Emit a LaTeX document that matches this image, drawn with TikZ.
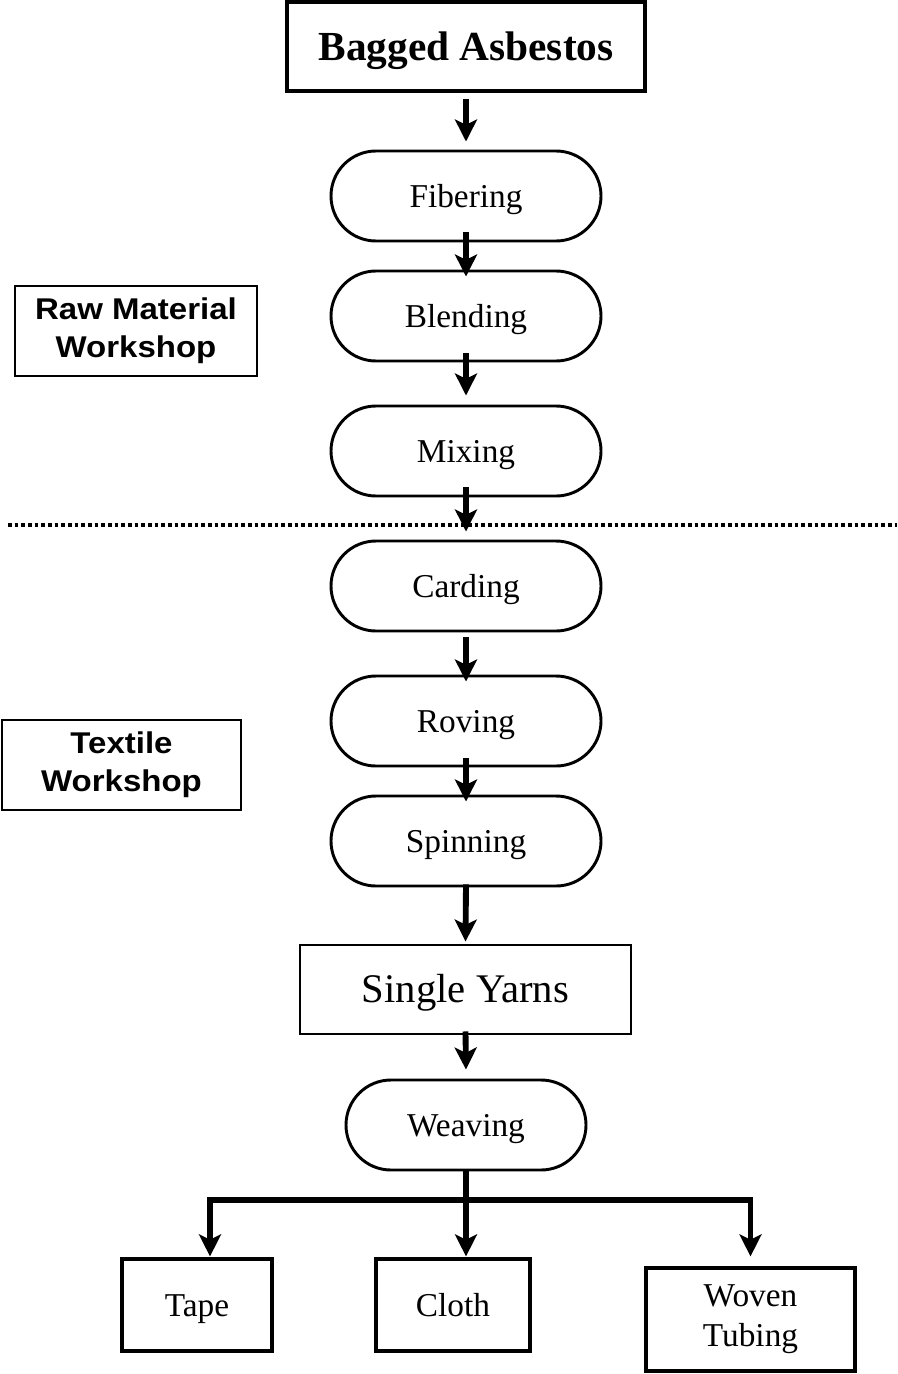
\documentclass[tikz,border=0pt]{standalone}
\usepackage{fontspec}
\setmainfont{Liberation Serif}
\newfontfamily\labfont[FakeStretch=1.1]{Liberation Sans}
\usetikzlibrary{shapes.misc,arrows.meta,calc}
\begin{document}
\begin{tikzpicture}[x=0.75pt,y=-0.75pt,
  box/.style={draw,line width=2.6pt,rectangle,inner sep=0pt,align=center},
  one/.style={text height=16.5pt,text depth=0pt},
  pill/.style={draw,line width=2.2pt,rounded rectangle,minimum width=202.5pt,minimum height=67.5pt,inner sep=0pt,one,font=\fontsize{25}{30}\selectfont},
  arr/.style={line width=4.4pt,-{Stealth[length=16.5pt,width=16.5pt,inset=4pt]}},
  lab/.style={draw,line width=1.8pt,rectangle,inner sep=0pt,align=center,font=\labfont\bfseries\fontsize{22.5}{28.5}\selectfont},
  prod/.style={box,line width=2.4pt,font=\fontsize{25}{30}\selectfont}
]
\useasboundingbox (0,0) rectangle (897,1374);

\node[box,text height=20.5pt,text depth=0pt,minimum width=268.5pt,minimum height=66.75pt,font=\bfseries\fontsize{31}{36}\selectfont] (bag) at (466,46.5) {Bagged Asbestos};
\node[pill] (fib) at (466,196) {Fibering};
\node[pill] (ble) at (466,316) {Blending};
\node[pill] (mix) at (466,451) {Mixing};
\node[pill] (car) at (466,586) {Carding};
\node[pill] (rov) at (466,721) {Roving};
\node[pill] (spi) at (466,841) {Spinning};
\node[box,text height=20pt,text depth=0pt,line width=2.2pt,minimum width=248.25pt,minimum height=66.75pt,font=\fontsize{30.5}{36}\selectfont] (yarn) at (465.5,989.5) {Single Yarns};
\node[pill,minimum width=180pt] (wea) at (466,1125) {Weaving};
\node[prod,one,minimum width=112.5pt,minimum height=69pt] (tape) at (197,1305) {Tape};
\node[prod,one,minimum width=115.5pt,minimum height=69pt] (cloth) at (453,1305) {Cloth};
\node[prod,minimum width=156.75pt,minimum height=77.25pt] (tub) at (750.5,1319.5) {Woven\\Tubing};

\node[lab,minimum width=181.5pt,minimum height=67.5pt] (raw) at (136,331) {Raw Material\\Workshop};
\node[lab,minimum width=179.25pt,minimum height=67.5pt] (tex) at (121.5,765) {Textile\\Workshop};

\coordinate (dl) at (8,525);
\coordinate (dr) at (897,525);
\draw[line width=3.3pt,dash pattern=on 2.7pt off 2.3pt] (dl) -- (dr);

\draw[arr] ($(bag.south)+(0,6)$) -- ($(fib.north)+(0,-8)$);
\draw[arr] ($(fib.south)+(0,-10)$) -- ($(ble.north)+(0,7)$);
\draw[arr] ($(ble.south)+(0,-9)$) -- ($(mix.north)+(0,-9)$);
\draw[arr] ($(mix.south)+(0,-10)$) -- ($(car.north)+(0,-8)$);
\draw[arr] ($(car.south)+(0,5)$) -- ($(rov.north)+(0,7)$);
\draw[arr] ($(rov.south)+(0,-9)$) -- ($(spi.north)+(0,7)$);
\draw[arr] ($(spi.south)+(0,-3)$) -- ($(yarn.north)+(0,-2)$);
\draw[arr] ($(yarn.south)+(0,-4)$) -- ($(wea.north)+(0,-9)$);

\coordinate (hub) at (466,1200);
\draw[arr] (wea.south) -- ($(cloth.north)+(13,-1)$);
\draw[arr] (hub) -| ($(tape.north)+(13,-1)$);
\draw[arr] (hub) -| ($(tub.north)+(0,-10)$);
\end{tikzpicture}
\end{document}
